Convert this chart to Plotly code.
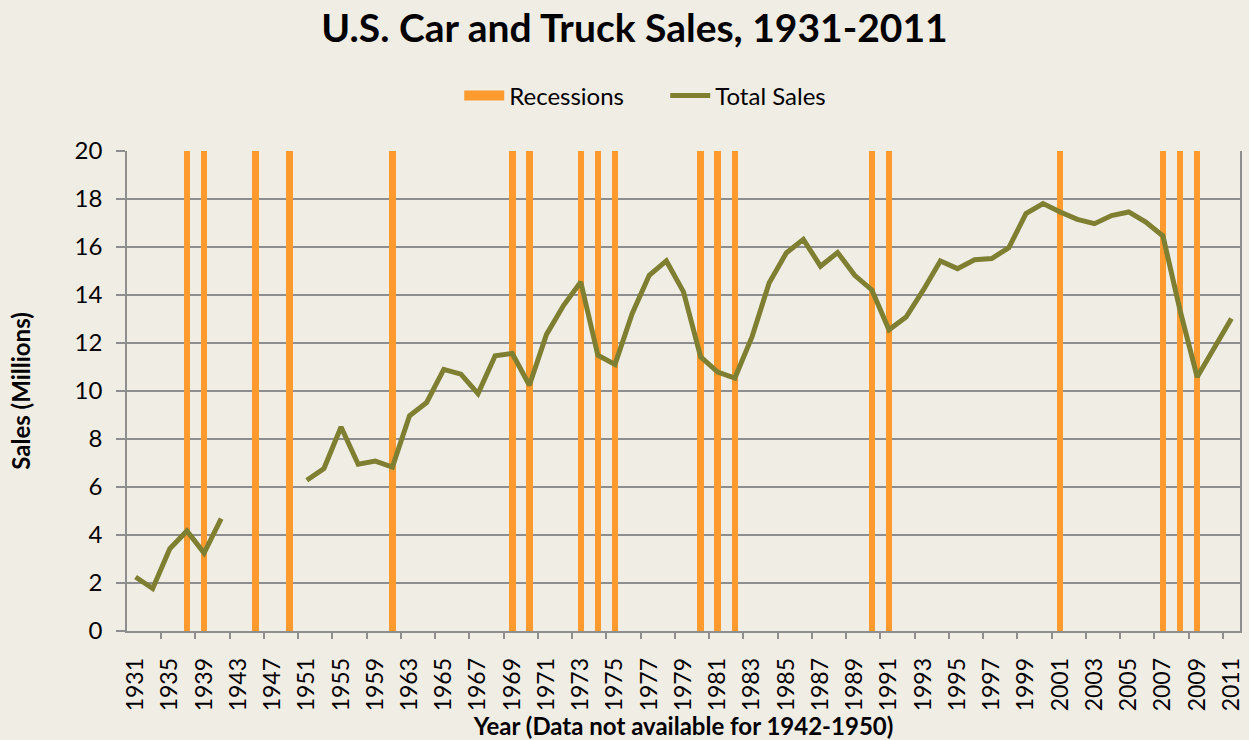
import plotly.graph_objects as go

# Category axis: every other year through 1963, then annual through 2011
years = list(range(1931, 1963, 2)) + list(range(1963, 2012))

# Total car and truck sales (millions); no data for 1942-1950
sales = [
    2.25, 1.77, 3.43, 4.17, 3.25, 4.68,          # 1931-1941
    None, None, None, None,                      # 1943-1949
    6.28, 6.77, 8.5, 6.95, 7.08, 6.83,           # 1951-1961
    8.97, 9.52, 10.9, 10.7, 9.89, 11.47, 11.56,  # 1963-1969
    10.24, 12.36, 13.57, 14.54, 11.49, 11.11,    # 1970-1975
    13.22, 14.82, 15.42, 14.13,                  # 1976-1979
    11.42, 10.79, 10.54, 12.25, 14.5, 15.75,     # 1980-1985
    16.32, 15.2, 15.77, 14.82, 14.21, 12.55,     # 1986-1991
    13.08, 14.2, 15.42, 15.1, 15.47, 15.52,      # 1992-1997
    15.97, 17.39, 17.81, 17.46, 17.15, 16.97,    # 1998-2003
    17.31, 17.46, 17.04, 16.46, 13.36, 10.58,    # 2004-2009
    11.77, 13.02,                                # 2010-2011
]

# Recession years, drawn as full-height bars
recession_years = [1937, 1939, 1945, 1949, 1961, 1969, 1970, 1973, 1974, 1975,
                   1980, 1981, 1982, 1990, 1991, 2001, 2007, 2008, 2009]
recession_height = [20] * len(recession_years)

y_ticks = [0, 2, 4, 6, 8, 10, 12, 14, 16, 18, 20]

idx = list(range(len(years)))
rec_idx = [years.index(y) for y in recession_years]
label_idx = idx[::2]
label_txt = [str(years[i]) for i in label_idx]
boundary_idx = [i + 1.5 for i in label_idx if i + 1.5 < len(years)]

FONT = "Lato, 'Open Sans', sans-serif"
BG = "#F0EDE5"
GRID = "#8E8E8E"
ORANGE = "#FF9A2E"
OLIVE = "#7F7F32"

fig = go.Figure()
fig.add_trace(go.Bar(
    x=rec_idx, y=recession_height, width=0.38, name="Recessions",
    marker=dict(color=ORANGE, line=dict(width=0)), showlegend=False,
))
# Legend entry for the recession bars, shown as a wide swatch
fig.add_trace(go.Scatter(
    x=[None], y=[None], mode="lines", name="Recessions",
    line=dict(color=ORANGE, width=16), hoverinfo="skip",
))
fig.add_trace(go.Scatter(
    x=idx, y=sales, mode="lines", name="Total Sales",
    line=dict(color=OLIVE, width=5), connectgaps=False,
))
# Invisible trace carrying the boundary tick axis
fig.add_trace(go.Scatter(
    x=[boundary_idx[0]], y=[0], xaxis="x2", mode="markers",
    marker=dict(opacity=0), showlegend=False, hoverinfo="skip",
))

xr = [-0.5, len(years) - 0.5]
fig.update_layout(
    width=1249, height=740,
    paper_bgcolor=BG, plot_bgcolor=BG,
    margin=dict(l=127, r=9, t=151, b=109),
    font=dict(family=FONT, color="#000000"),
    title=dict(text="<b>U.S. Car and Truck Sales, 1931-2011</b>",
               x=0.508, xanchor="center", y=0.962, yanchor="middle",
               font=dict(size=39, family=FONT)),
    legend=dict(orientation="h", x=0.2985, xanchor="left", y=1.115, yanchor="middle",
                font=dict(size=24, family=FONT), bgcolor="rgba(0,0,0,0)",
                traceorder="normal", itemwidth=40,
                entrywidth=151, entrywidthmode="pixels"),
    showlegend=True,
    bargap=0,
    xaxis=dict(
        range=xr, tickmode="array", tickvals=label_idx, ticktext=label_txt,
        tickangle=-90, ticks="", showgrid=False, zeroline=False,
        showline=True, linecolor=GRID, linewidth=1.5, automargin=False,
        tickfont=dict(size=23, family=FONT), ticklabelstandoff=16,
        title=dict(text="<b>Year (Data not available for 1942-1950)</b>",
                   font=dict(size=24, family=FONT), standoff=10),
    ),
    xaxis2=dict(
        range=xr, overlaying="x", side="bottom", anchor="y",
        tickmode="array", tickvals=boundary_idx, ticks="outside", ticklen=7,
        tickcolor=GRID, tickwidth=1.5, showticklabels=False,
        showgrid=False, zeroline=False, showline=False, automargin=False,
    ),
    yaxis=dict(
        range=[0, 20], tickmode="array", tickvals=y_ticks,
        ticks="outside", ticklen=9, tickcolor=GRID, tickwidth=1.5,
        ticklabelstandoff=9, automargin=False,
        showgrid=True, gridcolor=GRID, gridwidth=1.5, zeroline=False,
        showline=True, linecolor=GRID, linewidth=1.5, mirror=True,
        tickfont=dict(size=24, family=FONT),
        title=dict(text="<b>Sales (Millions)</b>", font=dict(size=24, family=FONT),
                   standoff=37),
    ),
)

fig.write_html("out.html")
